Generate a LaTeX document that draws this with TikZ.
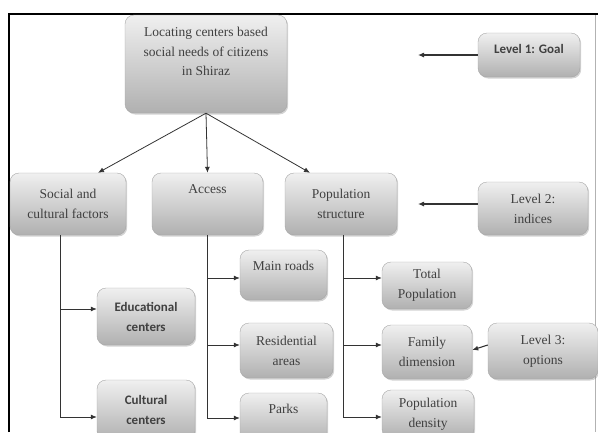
\documentclass[tikz,border=0pt]{standalone}
\usepackage{fontspec}
\setmainfont{Liberation Serif}
\newfontfamily\calibrifont{Carlito}
\usetikzlibrary{arrows.meta,positioning,shadows}

\begin{document}
\begin{tikzpicture}[x=1pt,y=-1pt,
  hbox/.style={draw=gray!70, rounded corners=9pt, top color=gray!12, bottom color=gray!62,
    drop shadow={shadow xshift=1.2pt, shadow yshift=-1.5pt, opacity=0.35},
    align=center, inner sep=3pt, text=black!75,
    font=\fontsize{13.5}{20}\selectfont},
  boldbox/.style={hbox, font=\calibrifont\bfseries\fontsize{13}{20}\selectfont},
  link/.style={draw=black!80, line width=0.8pt, -{Latex[length=6pt,width=5pt]}},
  levelarrow/.style={link, line width=1.1pt}]
\useasboundingbox (0,0) rectangle (598,432);
\clip (0,0) rectangle (598,432);

% Frame
\draw[gray!60, line width=0.6pt] (595,14) -- (595,432);
\draw[line width=2.6pt] (9,432) -- (9,14) -- (598,14);

% Level 1: the goal
\node[hbox, minimum width=162pt, minimum height=98pt, text depth=25pt,
  font=\fontsize{13.5}{19.5}\selectfont] (goal) at (206,64) {Locating centers based\\social needs of citizens\\in Shiraz};
\node[boldbox, minimum width=102pt, minimum height=44pt, text depth=13pt] (level1) at (529,55) {Level 1: Goal};
\coordinate (level1tip) at (418,55);
\draw[levelarrow] (level1) -- (level1tip);

% Level 2: indices
\node[hbox, minimum width=116pt, minimum height=62pt] (social) at (68,204) {Social and\\cultural factors};
\node[hbox, minimum width=111pt, minimum height=62pt, text depth=29pt] (access) at (207.5,204) {Access};
\node[hbox, minimum width=112pt, minimum height=62pt] (population) at (341,204) {Population\\structure};
\node[hbox, minimum width=110pt, minimum height=53pt] (level2) at (533,208.5) {Level 2:\\indices};
\coordinate (level2tip) at (418,204);
\draw[levelarrow] (level2.west |- level2tip) -- (level2tip);

% Goal to indices
\draw[link] (goal.south) -- ([xshift=30pt]social.north);
\draw[link] (goal.south) -- (access.north);
\draw[link] (goal.south) -- ([xshift=-31pt]population.north);

% Level 3: options
\node[boldbox, minimum width=98pt, minimum height=57pt] (educational) at (146,316.5) {Educational\\centers};
\node[boldbox, minimum width=98pt, minimum height=60pt] (cultural) at (146,410) {Cultural\\centers};
\node[hbox, minimum width=87pt, minimum height=50pt, text depth=19pt] (mainroads) at (283.5,275) {Main roads};
\node[hbox, minimum width=93pt, minimum height=55pt] (residential) at (286.5,350.5) {Residential\\areas};
\node[hbox, minimum width=87pt, minimum height=50pt, text depth=19pt] (parks) at (283.5,418) {Parks};
\node[hbox, minimum width=90pt, minimum height=47pt] (total) at (427,285.5) {Total\\Population};
\node[hbox, minimum width=90pt, minimum height=54pt] (family) at (427,352) {Family\\dimension};
\node[hbox, minimum width=92pt, minimum height=48pt] (density) at (428,414) {Population\\density};
\node[hbox, minimum width=110pt, minimum height=56pt] (level3) at (543,351) {Level 3:\\options};
\draw[levelarrow] ([yshift=6pt]level3.west) -- ([yshift=2pt]family.east);

% Branches
\draw[link] ([xshift=-8pt]social.south) |- ([yshift=7.5pt]educational.west);
\draw[link] ([xshift=-8pt]social.south) |- ([yshift=-7pt]cultural.west);
\draw[link] (access.south) |- ([yshift=-3pt]mainroads.west);
\draw[link] (access.south) |- ([yshift=5.5pt]residential.west);
\draw[link] (access.south) |- (parks.west);
\draw[link] ([xshift=2pt]population.south) |- ([yshift=7.5pt]total.west);
\draw[link] ([xshift=2pt]population.south) |- ([yshift=7pt]family.west);
\draw[link] ([xshift=2pt]population.south) |- ([yshift=-3pt]density.west);
\end{tikzpicture}
\end{document}
